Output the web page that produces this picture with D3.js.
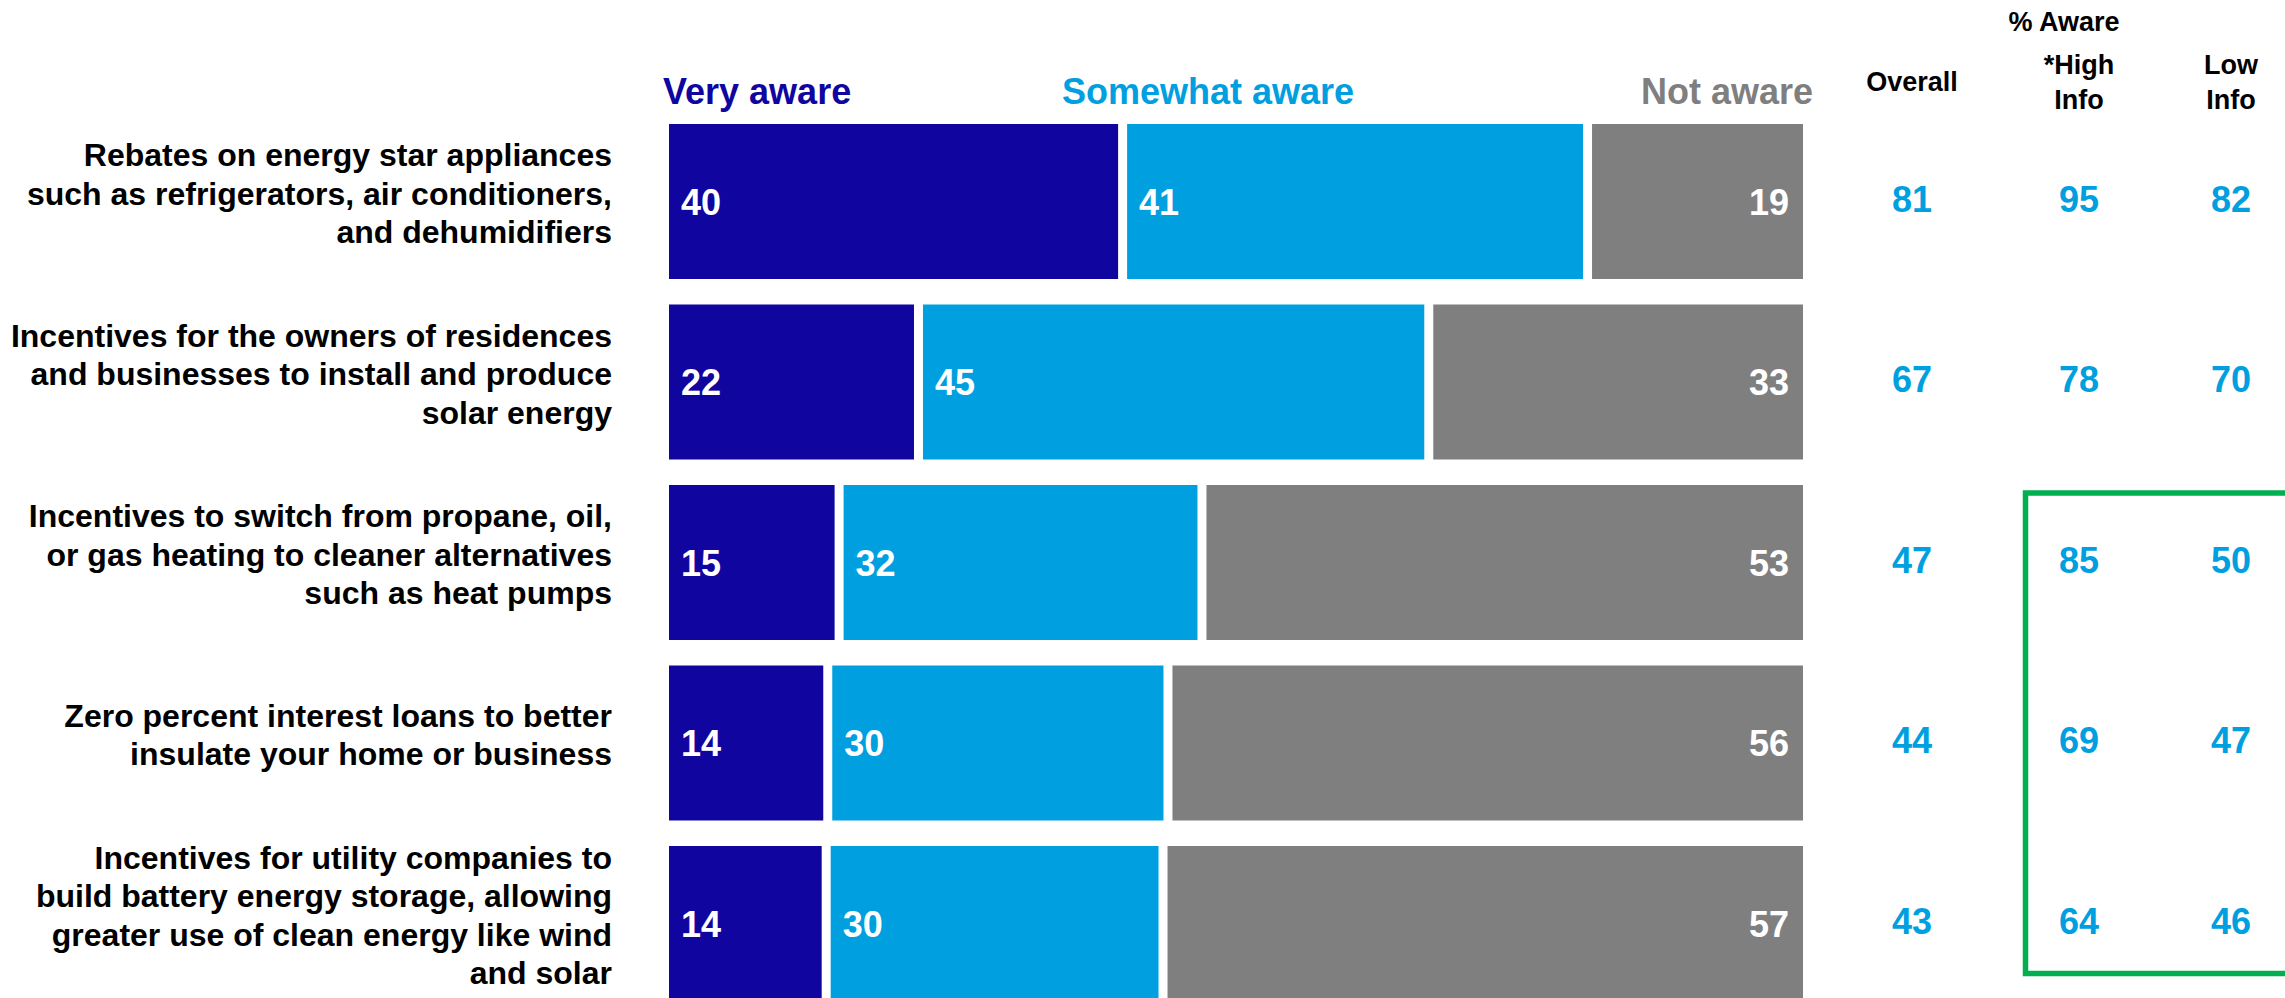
<!DOCTYPE html>
<html>
<head>
<meta charset="utf-8">
<script src="https://cdn.jsdelivr.net/npm/d3@7/dist/d3.min.js"></script>
<style>
  html, body { margin: 0; padding: 0; background: #ffffff; }
  svg { display: block; }
  text { font-family: "Liberation Sans", Arial, Helvetica, sans-serif; font-weight: bold; }
</style>
</head>
<body>
<div id="chart"></div>
<script>
// Awareness of energy programs: stacked shares plus % aware by group
const categories = [
  ["Rebates on energy star appliances", "such as refrigerators, air conditioners,", "and dehumidifiers"],
  ["Incentives for the owners of residences", "and businesses to install and produce", "solar energy"],
  ["Incentives to switch from propane, oil,", "or gas heating to cleaner alternatives", "such as heat pumps"],
  ["Zero percent interest loans to better", "insulate your home or business"],
  ["Incentives for utility companies to", "build battery energy storage, allowing", "greater use of clean energy like wind", "and solar"]
];
const seriesNames = ["Very aware", "Somewhat aware", "Not aware"];
const veryAware = [40, 22, 15, 14, 14];
const somewhatAware = [41, 45, 32, 30, 30];
const notAware = [19, 33, 53, 56, 57];

const columnLabels = [["Overall"], ["*High", "Info"], ["Low", "Info"]];
const groupTitle = "% Aware";
const overall = [81, 67, 47, 44, 43];
const highInfo = [95, 78, 85, 69, 64];
const lowInfo = [82, 70, 50, 47, 46];

const colors = ["#10069F", "#009FDF", "#7F7F7F"];
const valueColor = "#009FDF";
const boxColor = "#00B050";

const W = 2285, H = 998;
const svg = d3.select("#chart").append("svg").attr("width", W).attr("height", H);

const barLeft = 669, barRight = 1803, gap = 9;
const y = d3.scaleBand()
  .domain(d3.range(categories.length))
  .range([124, 1001])
  .paddingInner(25.5 / 180.5)
  .paddingOuter(0);

const rows = categories.map((c, i) => {
  const vals = [veryAware[i], somewhatAware[i], notAware[i]];
  const x = d3.scaleLinear().domain([0, d3.sum(vals)]).range([barLeft, barRight]);
  let acc = 0;
  const segs = vals.map((v, k) => {
    const s = { k, v, x0: x(acc), x1: x(acc + v) };
    acc += v;
    return s;
  });
  return { i, segs };
});

// stacked bars
const rowG = svg.selectAll("g.row").data(rows).join("g")
  .attr("class", "row")
  .attr("transform", d => `translate(0,${y(d.i)})`);

rowG.selectAll("rect").data(d => d.segs).join("rect")
  .attr("x", s => s.x0 + (s.k > 0 ? gap / 2 : 0))
  .attr("y", 0)
  .attr("width", s => (s.x1 - s.x0) - (s.k > 0 ? gap / 2 : 0) - (s.k < 2 ? gap / 2 : 0))
  .attr("height", y.bandwidth())
  .attr("fill", s => colors[s.k]);

rowG.selectAll("text.val").data(d => d.segs).join("text")
  .attr("class", "val")
  .attr("x", s => s.k < 2 ? s.x0 + (s.k > 0 ? gap / 2 : 0) + 12 : s.x1 - 14)
  .attr("y", y.bandwidth() / 2 + 13)
  .attr("text-anchor", s => s.k < 2 ? "start" : "end")
  .attr("font-size", 36)
  .attr("fill", "#ffffff")
  .text(s => s.v);

// legend above bars
const legendPos = [
  { x: 663, anchor: "start" },
  { x: 1208, anchor: "middle" },
  { x: 1813, anchor: "end" }
];
svg.selectAll("text.legend").data(seriesNames).join("text")
  .attr("class", "legend")
  .attr("x", (d, k) => legendPos[k].x)
  .attr("y", 104)
  .attr("text-anchor", (d, k) => legendPos[k].anchor)
  .attr("font-size", 36)
  .attr("fill", (d, k) => colors[k])
  .text(d => d);

// category labels, right aligned
const lineH = 38.5;
svg.selectAll("text.cat").data(categories).join("text")
  .attr("class", "cat")
  .attr("text-anchor", "end")
  .attr("font-size", 32)
  .attr("fill", "#000000")
  .each(function(lines, i) {
    const cy = y(i) + y.bandwidth() / 2 - 5;
    d3.select(this).selectAll("tspan").data(lines).join("tspan")
      .attr("x", 612)
      .attr("y", (l, j) => cy + (j - (lines.length - 1) / 2) * lineH + 8)
      .text(l => l);
  });

// % aware columns
const colX = [1912, 2079, 2231];
const colValues = [overall, highInfo, lowInfo];

svg.append("text")
  .attr("x", 2064).attr("y", 31)
  .attr("text-anchor", "middle")
  .attr("font-size", 27)
  .attr("fill", "#000000")
  .text(groupTitle);

svg.selectAll("text.colhead").data(columnLabels).join("text")
  .attr("class", "colhead")
  .attr("text-anchor", "middle")
  .attr("font-size", 27)
  .attr("fill", "#000000")
  .each(function(lines, c) {
    d3.select(this).selectAll("tspan").data(lines).join("tspan")
      .attr("x", colX[c])
      .attr("y", (l, j) => lines.length === 1 ? 91 : 74 + j * 35)
      .text(l => l);
  });

colValues.forEach((vals, c) => {
  svg.selectAll(`text.colval${c}`).data(vals).join("text")
    .attr("class", `colval${c}`)
    .attr("x", colX[c])
    .attr("y", (v, i) => y(i) + y.bandwidth() / 2 - 3 + 13)
    .attr("text-anchor", "middle")
    .attr("font-size", 36)
    .attr("fill", valueColor)
    .text(v => v);
});

// highlight box around the high/low info values of the last three rows
svg.append("rect")
  .attr("x", 2025.5)
  .attr("y", y(2) + 8)
  .attr("width", 400)
  .attr("height", (y(4) + y.bandwidth() / 2 + 50) - (y(2) + 8))
  .attr("fill", "none")
  .attr("stroke", boxColor)
  .attr("stroke-width", 5.5);
</script>
</body>
</html>
